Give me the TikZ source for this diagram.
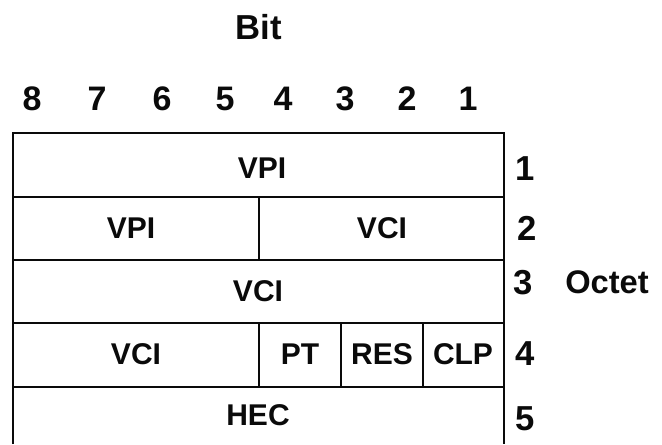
\documentclass[tikz,border=0pt]{standalone}
\usepackage{fontspec}
\setmainfont{Liberation Sans}
\usepackage{tikz}
\usetikzlibrary{positioning}
\definecolor{inkcolor}{RGB}{10,10,10}
\tikzset{
  rule/.style={line width=2pt, inkcolor},
  field/.style={inkcolor, inner sep=0pt, anchor=base, font=\bfseries\fontsize{22.5}{22.5}\selectfont},
  bitnum/.style={inkcolor, inner sep=0pt, anchor=base, font=\bfseries\fontsize{25.5}{25.5}\selectfont},
  octnum/.style={inkcolor, inner sep=0pt, anchor=base, font=\bfseries\fontsize{26}{26}\selectfont},
  caption/.style={inkcolor, inner sep=0pt, anchor=base, font=\bfseries\fontsize{26}{26}\selectfont}
}

\begin{document}
\begin{tikzpicture}[x=0.75pt, y=-0.75pt]
    \useasboundingbox (0,0) rectangle (662,444);
    % Heading and bit numbers
    \node[caption] (bit) at (259,39) {Bit};
    \foreach \b/\x in {8/32, 7/97, 6/162, 5/225, 4/283, 3/345, 2/407, 1/468}
      \node[bitnum] (b\b) at (\x,110) {\b};
    % Frame, open at the bottom
    \draw[rule] (13,444) -- (13,133) -- (504,133) -- (504,444);
    \foreach \y in {197, 260, 323, 387}
      \draw[rule] (13,\y) -- (504,\y);
    % Field dividers
    \draw[rule] (259,197) -- (259,260);
    \draw[rule] (259,323) -- (259,387);
    \draw[rule] (341,323) -- (341,387);
    \draw[rule] (423,323) -- (423,387);
    % Fields
    \node[field] (vpi1) at (262,178) {VPI};
    \node[field] (vpi2) at (131,238) {VPI};
    \node[field] (vci2) at (382,238) {VCI};
    \node[field] (vci3) at (258,301) {VCI};
    \node[field] (vci4) at (136,364) {VCI};
    \node[field] (pt)   at (300,364) {PT};
    \node[field] (res)  at (382,364) {RES};
    \node[field] (clp)  at (463,364) {CLP};
    \node[field] (hec)  at (258,425) {HEC};
    % Octet numbers
    \node[octnum] (o1) at (525,180) {1};
    \node[octnum] (o2) at (527,240) {2};
    \node[octnum] (o3) at (523,294) {3};
    \node[octnum] (o4) at (525,365) {4};
    \node[octnum] (o5) at (525,430) {5};
    \node[caption, anchor=base west, font=\bfseries\fontsize{24.5}{24.5}\selectfont] (octet) at (565,293) {Octet};
\end{tikzpicture}
\end{document}
